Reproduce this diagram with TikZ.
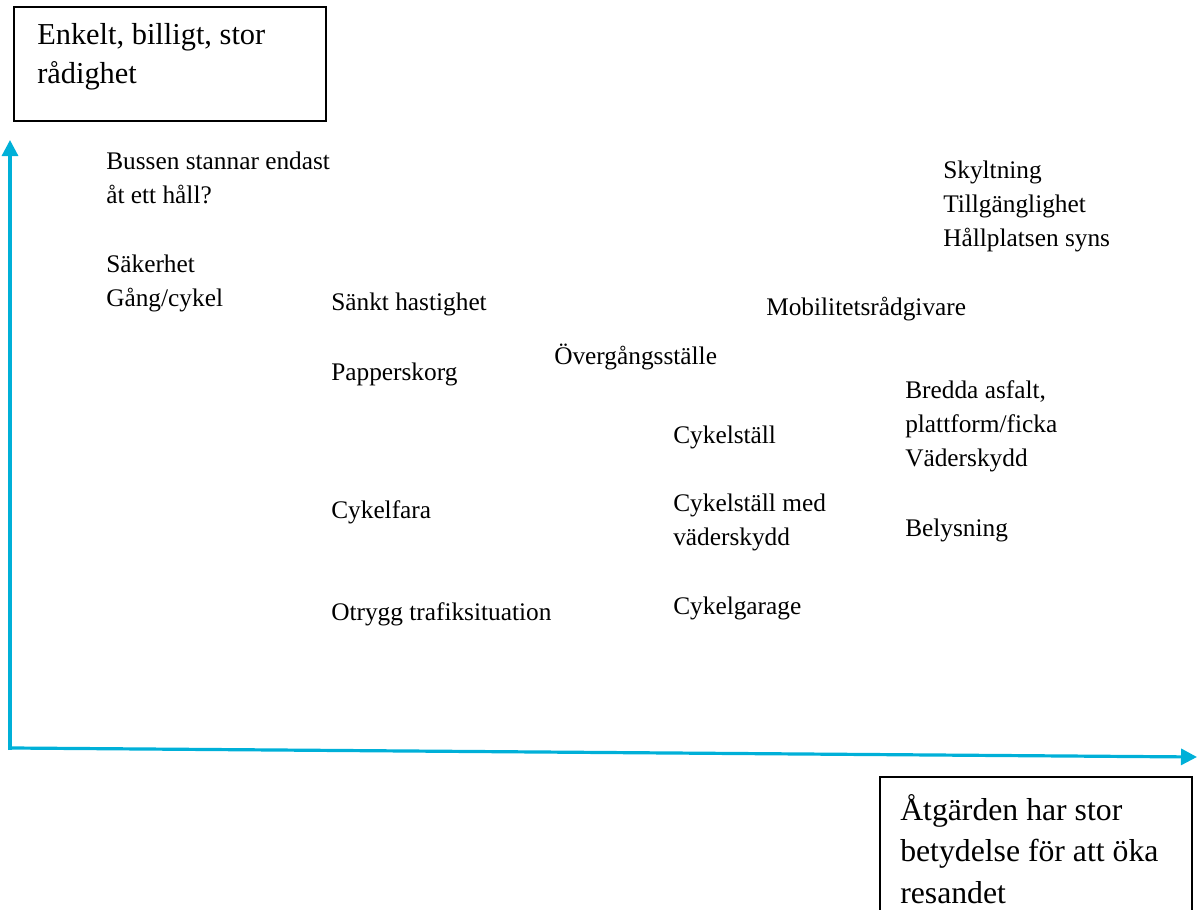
\documentclass[tikz,border=0pt]{standalone}
\usepackage{fontspec}
\setmainfont{Liberation Serif}
\usetikzlibrary{arrows.meta}
\definecolor{axcol}{RGB}{0,176,216}
\tikzset{
  >= {Triangle[length=12pt,width=12pt]},
  tx/.style={anchor=west, inner sep=0pt, align=left, font=\fontsize{19pt}{25.5pt}\selectfont},
  bt/.style={anchor=west, inner sep=0pt, align=left, font=\fontsize{22.5pt}{30pt}\selectfont},
  ax/.style={->, draw=axcol, line width=2.4pt}
}
\begin{document}
\begin{tikzpicture}[x=0.75pt, y=-0.75pt]
    \useasboundingbox (0,0) rectangle (1200,910);
    % boxes
    \draw[line width=0.8pt] (14,7) rectangle (326,121);
    \node[bt, font=\fontsize{22.8pt}{29.25pt}\selectfont] (top) at (37,57) {Enkelt, billigt, stor\\rådighet};
    \draw[line width=0.8pt] (880,912) -- (880,777) -- (1192,777) -- (1192,912);
    \node[bt, font=\fontsize{23.8pt}{31pt}\selectfont] (bot) at (900,849) {Åtgärden har stor\\betydelse för att öka\\resandet};
    % axes
    \coordinate (org) at (10,750);
    \coordinate (ytop) at (10,140);
    \coordinate (xend) at (1197,757);
    \draw[ax] (org) -- (ytop);
    \draw[ax] (12,748) -- (xend);
    % items
    \node[tx] (buss) at (106,178) {Bussen stannar endast\\åt ett håll?};
    \node[tx] (sak) at (106,283) {Säkerhet\\Gång/cykel};
    \node[tx] (hast) at (331,304) {Sänkt hastighet};
    \node[tx] (papp) at (331,374) {Papperskorg};
    \node[tx] (cfara) at (331,512) {Cykelfara};
    \node[tx] (otr) at (331,614) {Otrygg trafiksituation};
    \node[tx] (overg) at (554,357) {Övergångsställe};
    \node[tx] (cst) at (673,437) {Cykelställ};
    \node[tx] (cstv) at (673,522) {Cykelställ med\\väderskydd};
    \node[tx] (cgar) at (673,608) {Cykelgarage};
    \node[tx] (mob) at (766,309) {Mobilitetsrådgivare};
    \node[tx] (skylt) at (943,206) {Skyltning\\Tillgänglighet\\Hållplatsen syns};
    \node[tx] (bred) at (905,426) {Bredda asfalt,\\plattform/ficka\\Väderskydd};
    \node[tx] (bel) at (905,530) {Belysning};
\end{tikzpicture}
\end{document}
